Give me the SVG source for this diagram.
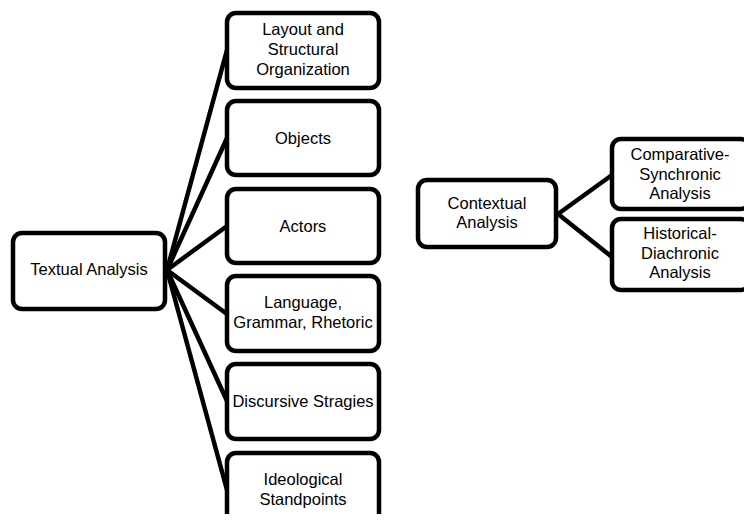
<svg xmlns="http://www.w3.org/2000/svg" width="744" height="524" viewBox="0 0 744 524">
<style>
.box{fill:#fff;stroke:#000;stroke-width:4.5;stroke-linejoin:round}
.lnk{stroke:#000;stroke-width:4.5;stroke-linecap:round;fill:none}
text{font-family:"Liberation Sans",Arial,sans-serif;font-size:16.5px;fill:#000;text-anchor:middle}
</style>
<rect width="744" height="524" fill="#fff"/>
<g id="connectors">
<line class="lnk" x1="167" y1="270" x2="227" y2="50"/>
<line class="lnk" x1="167" y1="270" x2="227" y2="138"/>
<line class="lnk" x1="167" y1="270" x2="227" y2="226"/>
<line class="lnk" x1="167" y1="270" x2="227" y2="314"/>
<line class="lnk" x1="167" y1="270" x2="227" y2="401"/>
<line class="lnk" x1="167" y1="270" x2="227" y2="490"/>
<line class="lnk" x1="558" y1="214" x2="612" y2="175"/>
<line class="lnk" x1="558" y1="214" x2="612" y2="257"/>
</g>
<g id="textual">
<rect class="box" x="13" y="233" width="152" height="76" rx="9"/>
<text x="89" y="275">Textual Analysis</text>
</g>
<g id="layout">
<rect class="box" x="227" y="13" width="152" height="75" rx="9"/>
<text x="303" y="35">Layout and</text>
<text x="303" y="55">Structural</text>
<text x="303" y="75">Organization</text>
</g>
<g id="objects">
<rect class="box" x="227" y="101" width="152" height="74" rx="9"/>
<text x="303" y="144">Objects</text>
</g>
<g id="actors">
<rect class="box" x="227" y="189" width="152" height="74" rx="9"/>
<text x="303" y="232">Actors</text>
</g>
<g id="language">
<rect class="box" x="227" y="276" width="152" height="75" rx="9"/>
<text x="303" y="308">Language,</text>
<text x="303" y="328">Grammar, Rhetoric</text>
</g>
<g id="discursive">
<rect class="box" x="227" y="364" width="152" height="75" rx="9"/>
<text x="303" y="407">Discursive Stragies</text>
</g>
<g id="ideological">
<path class="box" d="M227 514 V462 A9 9 0 0 1 236 453 H370 A9 9 0 0 1 379 462 V514"/>
<text x="303" y="485">Ideological</text>
<text x="303" y="505">Standpoints</text>
</g>
<g id="contextual">
<rect class="box" x="418" y="180" width="138" height="67" rx="9"/>
<text x="487" y="209">Contextual</text>
<text x="487" y="228">Analysis</text>
</g>
<g id="comparative">
<rect class="box" x="612" y="139" width="138" height="70" rx="9"/>
<text x="680" y="160">Comparative-</text>
<text x="680" y="180">Synchronic</text>
<text x="680" y="199">Analysis</text>
</g>
<g id="historical">
<rect class="box" x="612" y="219" width="138" height="71" rx="9"/>
<text x="680" y="239">Historical-</text>
<text x="680" y="259">Diachronic</text>
<text x="680" y="278">Analysis</text>
</g>
</svg>
